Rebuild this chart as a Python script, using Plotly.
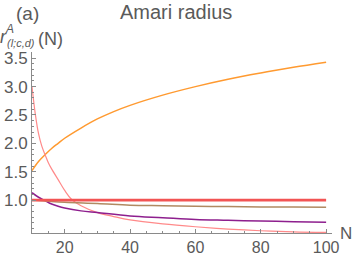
import plotly.graph_objects as go

# ---- data ----
N_orange = [10, 12, 14, 16, 18, 20, 25, 30, 35, 40, 50, 60, 70, 80, 90, 100]
orange_vals = [1.52, 1.68, 1.80, 1.91, 2.00, 2.09, 2.27, 2.43, 2.56, 2.67, 2.85, 3.00, 3.13, 3.24, 3.34, 3.43]

N_pink = [10, 11, 12, 13, 14, 15, 16, 18, 20, 22, 25, 30, 35, 40, 50, 60, 70, 80, 90, 100]
pink_vals = [3.00, 2.52, 2.17, 1.95, 1.80, 1.66, 1.55, 1.36, 1.17, 1.02, 0.90, 0.78, 0.71, 0.65, 0.58, 0.53, 0.49, 0.46, 0.44, 0.43]

N_purple = [10, 12, 14, 16, 18, 20, 25, 30, 40, 50, 60, 70, 80, 90, 100]
purple_vals = [1.13, 1.05, 0.99, 0.93, 0.89, 0.86, 0.81, 0.78, 0.72, 0.69, 0.66, 0.645, 0.63, 0.62, 0.61]

N_brown = [10, 20, 30, 40, 50, 60, 70, 80, 90, 100]
brown_vals = [1.00, 0.96, 0.94, 0.91, 0.90, 0.89, 0.885, 0.88, 0.877, 0.875]

N_red = [10, 100]
red_vals = [1.0, 1.0]

x_ticks = [20, 40, 60, 80, 100]
y_ticks = [1.0, 1.5, 2.0, 2.5, 3.0, 3.5]
y_ticktext = ["1.0", "1.5", "2.0", "2.5", "3.0", "3.5"]

# ---- figure ----
W, H = 354, 256
L, R, T, B = 32, 22, 52, 23
PW, PH = W - L - R, H - T - B

def px(X):
    return (X - L) / PW

def py(Y):
    return 1 - (Y - T) / PH

fig = go.Figure()
fig.add_trace(go.Scatter(x=N_orange, y=orange_vals, mode="lines", line=dict(color="#ff9a30", width=1.5, shape="spline")))
fig.add_trace(go.Scatter(x=N_pink, y=pink_vals, mode="lines", line=dict(color="#ff8a8a", width=1.2, shape="spline")))
fig.add_trace(go.Scatter(x=N_purple, y=purple_vals, mode="lines", line=dict(color="#8e1f8e", width=1.5, shape="spline")))
fig.add_trace(go.Scatter(x=N_brown, y=brown_vals, mode="lines", line=dict(color="#b08a62", width=1.5, shape="spline")))
fig.add_trace(go.Scatter(x=N_red, y=red_vals, mode="lines", line=dict(color="#f25454", width=2.8)))

grey = "#5a5a5a"
axcol = "#8a8a8a"
fig.update_layout(
    width=W, height=H,
    margin=dict(l=L, r=R, t=T, b=B, autoexpand=False),
    plot_bgcolor="white", paper_bgcolor="white",
    showlegend=False,
    font=dict(family="Liberation Sans, Arial, sans-serif", color=grey),
    xaxis=dict(range=[10, 101.8], tickvals=x_ticks, showgrid=False, zeroline=False,
               showline=True, linecolor=axcol, linewidth=1, automargin=False,
               ticks="inside", ticklen=4, tickcolor=axcol,
               minor=dict(dtick=5, tick0=0, ticks="inside", ticklen=2, tickcolor=axcol),
               tickfont=dict(size=16, color=grey), ticklabelstandoff=0),
    yaxis=dict(range=[0.42, 3.61], tickvals=y_ticks, ticktext=y_ticktext, showgrid=False, zeroline=False,
               showline=True, linecolor=axcol, linewidth=1, automargin=False,
               ticks="inside", ticklen=4, tickcolor=axcol,
               minor=dict(dtick=0.1, tick0=0, ticks="inside", ticklen=2, tickcolor=axcol),
               tickfont=dict(size=17, color=grey), ticklabelstandoff=0),
)

def ann(text, X, Y, size, xanchor="center"):
    fig.add_annotation(text=text, x=px(X), y=py(Y), xref="paper", yref="paper",
                       showarrow=False, xanchor=xanchor, yanchor="middle",
                       font=dict(size=size, color=grey))

ann("(a)", 27, 13, 19)
ann("Amari radius", 176, 12, 20)
ann("<i>r</i>", 3, 37, 18)
ann("<i>A</i>", 9, 29, 12)
ann("<i>(l;c,d)</i>", 21, 43, 11)
ann("(N)", 50, 39, 18)
ann("N", 346, 233, 17)

fig.write_html("out.html", config={"displayModeBar": False},
               post_script="document.body.style.margin='0';")
